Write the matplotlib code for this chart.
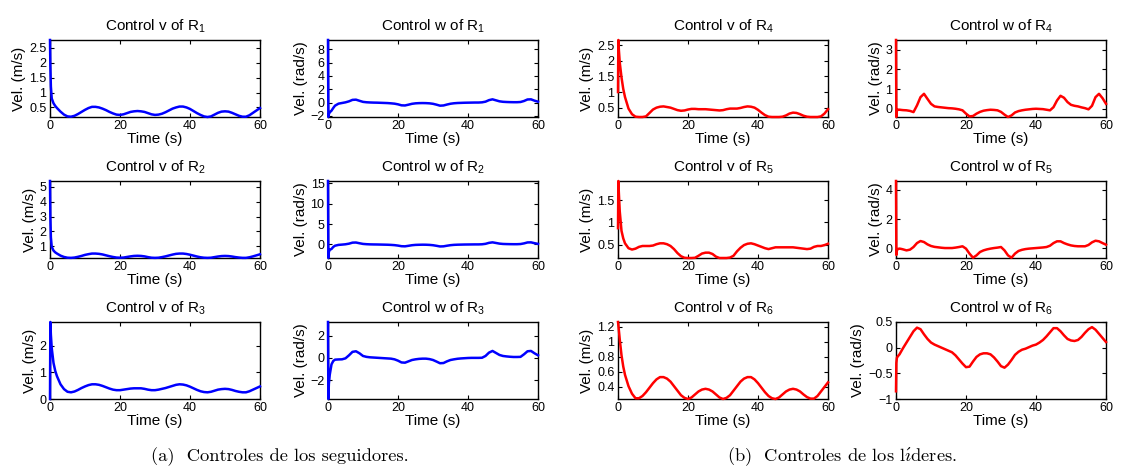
import matplotlib
matplotlib.use('Agg')
import matplotlib.pyplot as plt
from matplotlib.ticker import FuncFormatter

plt.rcParams['font.family'] = 'Liberation Sans'
plt.rcParams['mathtext.fontset'] = 'custom'
plt.rcParams['mathtext.rm'] = 'Liberation Sans'
plt.rcParams['mathtext.it'] = 'Liberation Sans:italic'

# sampling times (s)
t = [0, 0.1, 0.25, 0.5, 1, 1.5,
     2, 3, 4, 5, 6, 7, 8, 9, 10, 11,
     12, 13, 14, 15, 16, 17, 18, 19, 20, 21,
     22, 23, 24, 25, 26, 27, 28, 29, 30, 31,
     32, 33, 34, 35, 36, 37, 38, 39, 40, 41,
     42, 43, 44, 45, 46, 47, 48, 49, 50, 51,
     52, 53, 54, 55, 56, 57, 58, 59, 60]

# followers: linear velocity (m/s)
v1 = [2.76, 1.9, 1.2, 0.8, 0.64, 0.55,
      0.48, 0.36, 0.26, 0.20, 0.19, 0.22, 0.28, 0.35, 0.42, 0.48,
      0.52, 0.52, 0.50, 0.46, 0.41, 0.35, 0.30, 0.26, 0.25, 0.27,
      0.31, 0.35, 0.37, 0.38, 0.37, 0.35, 0.31, 0.27, 0.25, 0.26,
      0.29, 0.34, 0.40, 0.46, 0.50, 0.53, 0.53, 0.50, 0.45, 0.38,
      0.31, 0.25, 0.20, 0.18, 0.20, 0.26, 0.32, 0.36, 0.37, 0.36,
      0.32, 0.27, 0.22, 0.19, 0.19, 0.24, 0.32, 0.40, 0.48]
v2 = [5.4, 3.0, 1.6, 0.95, 0.7, 0.58,
      0.50, 0.36, 0.27, 0.22, 0.21, 0.23, 0.28, 0.34, 0.41, 0.46,
      0.50, 0.50, 0.48, 0.44, 0.38, 0.32, 0.27, 0.23, 0.22, 0.23,
      0.27, 0.31, 0.34, 0.35, 0.34, 0.31, 0.26, 0.22, 0.21, 0.22,
      0.26, 0.31, 0.37, 0.43, 0.48, 0.50, 0.50, 0.47, 0.42, 0.36,
      0.30, 0.25, 0.22, 0.21, 0.22, 0.26, 0.30, 0.33, 0.34, 0.33,
      0.30, 0.26, 0.23, 0.21, 0.21, 0.25, 0.31, 0.38, 0.45]
v3 = [0.0, 2.88, 2.4, 1.9, 1.35, 1.05,
      0.85, 0.55, 0.37, 0.27, 0.25, 0.28, 0.34, 0.41, 0.47, 0.52,
      0.55, 0.55, 0.53, 0.49, 0.44, 0.39, 0.35, 0.33, 0.33, 0.35,
      0.37, 0.39, 0.40, 0.40, 0.40, 0.38, 0.35, 0.33, 0.33, 0.35,
      0.38, 0.41, 0.45, 0.49, 0.53, 0.55, 0.54, 0.51, 0.46, 0.40,
      0.34, 0.29, 0.26, 0.25, 0.27, 0.31, 0.35, 0.37, 0.38, 0.37,
      0.34, 0.30, 0.27, 0.25, 0.25, 0.29, 0.35, 0.41, 0.47]

# followers: angular velocity (rad/s)
w1 = [9.4, -2.15, -1.7, -1.45, -1.2, -0.8,
      -0.45, -0.15, -0.05, 0.05, 0.20, 0.42, 0.45, 0.28, 0.12, 0.06,
      0.03, 0.01, 0.00, -0.02, -0.04, -0.06, -0.10, -0.15, -0.25, -0.40,
      -0.42, -0.30, -0.17, -0.10, -0.07, -0.06, -0.07, -0.10, -0.17, -0.30,
      -0.45, -0.42, -0.28, -0.16, -0.09, -0.05, -0.03, -0.01, 0.00, 0.01,
      0.02, 0.02, 0.05, 0.15, 0.38, 0.50, 0.35, 0.20, 0.13, 0.10,
      0.08, 0.07, 0.07, 0.10, 0.25, 0.48, 0.50, 0.30, 0.15]
w2 = [15.5, -3.3, -1.8, -1.3, -1.1, -0.6,
      -0.30, -0.10, -0.03, 0.05, 0.20, 0.45, 0.48, 0.30, 0.14, 0.07,
      0.03, 0.01, 0.00, -0.02, -0.04, -0.06, -0.10, -0.16, -0.27, -0.42,
      -0.45, -0.32, -0.18, -0.10, -0.07, -0.05, -0.06, -0.10, -0.18, -0.32,
      -0.48, -0.45, -0.30, -0.17, -0.09, -0.05, -0.03, -0.01, 0.00, 0.01,
      0.02, 0.02, 0.05, 0.16, 0.40, 0.52, 0.37, 0.21, 0.13, 0.10,
      0.08, 0.07, 0.07, 0.11, 0.27, 0.50, 0.52, 0.32, 0.15]
w3 = [3.22, -3.67, -2.3, -1.5, -0.57, -0.27,
      -0.15, -0.13, -0.12, -0.03, 0.24, 0.55, 0.60, 0.42, 0.18, 0.10,
      0.06, 0.04, 0.02, 0.00, -0.02, -0.04, -0.06, -0.12, -0.24, -0.40,
      -0.42, -0.30, -0.18, -0.12, -0.08, -0.06, -0.06, -0.10, -0.18, -0.32,
      -0.47, -0.45, -0.30, -0.18, -0.12, -0.07, -0.04, -0.02, 0.00, 0.01,
      0.01, 0.01, 0.02, 0.18, 0.48, 0.63, 0.45, 0.27, 0.18, 0.14,
      0.11, 0.09, 0.09, 0.10, 0.33, 0.60, 0.63, 0.42, 0.24]

# leaders: linear velocity (m/s)
v4 = [1.0, 2.67, 2.35, 1.95, 1.47, 1.1,
      0.84, 0.47, 0.29, 0.21, 0.20, 0.20, 0.22, 0.33, 0.44, 0.50,
      0.53, 0.54, 0.52, 0.50, 0.46, 0.42, 0.40, 0.41, 0.44, 0.46,
      0.46, 0.45, 0.45, 0.45, 0.44, 0.43, 0.42, 0.41, 0.42, 0.45,
      0.47, 0.47, 0.47, 0.49, 0.52, 0.54, 0.53, 0.50, 0.43, 0.34,
      0.26, 0.21, 0.20, 0.20, 0.20, 0.21, 0.25, 0.31, 0.34, 0.33,
      0.29, 0.24, 0.21, 0.20, 0.20, 0.20, 0.22, 0.31, 0.45]
v5 = [0.87, 1.93, 1.65, 1.25, 0.81, 0.64,
      0.53, 0.42, 0.39, 0.41, 0.45, 0.47, 0.47, 0.47, 0.48, 0.51,
      0.53, 0.53, 0.51, 0.47, 0.40, 0.31, 0.24, 0.205, 0.20, 0.20,
      0.205, 0.25, 0.30, 0.32, 0.32, 0.29, 0.23, 0.20, 0.20, 0.20,
      0.21, 0.25, 0.35, 0.43, 0.49, 0.52, 0.53, 0.51, 0.48, 0.45,
      0.42, 0.40, 0.42, 0.44, 0.44, 0.44, 0.44, 0.44, 0.44, 0.43,
      0.42, 0.41, 0.40, 0.41, 0.45, 0.47, 0.47, 0.49, 0.52]
v6 = [1.26, 1.22, 1.15, 1.03, 0.82, 0.67,
      0.56, 0.41, 0.31, 0.25, 0.25, 0.28, 0.33, 0.39, 0.45, 0.50,
      0.53, 0.53, 0.51, 0.47, 0.41, 0.35, 0.29, 0.255, 0.24, 0.26,
      0.30, 0.34, 0.365, 0.375, 0.365, 0.34, 0.30, 0.26, 0.24, 0.255,
      0.29, 0.35, 0.41, 0.47, 0.51, 0.53, 0.53, 0.50, 0.45, 0.39,
      0.33, 0.28, 0.25, 0.24, 0.26, 0.30, 0.34, 0.365, 0.375, 0.365,
      0.34, 0.30, 0.265, 0.245, 0.245, 0.28, 0.34, 0.40, 0.46]

# leaders: angular velocity (rad/s)
w4 = [3.5, -0.42, -0.1, -0.05, -0.05, -0.06,
      -0.07, -0.08, -0.11, -0.17, 0.17, 0.59, 0.76, 0.50, 0.25, 0.12,
      0.09, 0.07, 0.05, 0.03, 0.02, 0.00, -0.03, -0.08, -0.25, -0.39,
      -0.37, -0.25, -0.16, -0.10, -0.07, -0.05, -0.06, -0.08, -0.16, -0.30,
      -0.42, -0.34, -0.19, -0.12, -0.08, -0.05, -0.03, -0.01, 0.00, -0.01,
      -0.02, -0.05, -0.08, 0.08, 0.42, 0.66, 0.56, 0.34, 0.20, 0.15,
      0.12, 0.07, 0.03, -0.03, 0.15, 0.59, 0.76, 0.54, 0.25]
w5 = [4.6, -0.45, -0.15, -0.05, -0.02, -0.04,
      -0.07, -0.14, -0.09, 0.09, 0.36, 0.50, 0.43, 0.27, 0.16, 0.10,
      0.07, 0.04, 0.02, 0.02, 0.02, 0.05, 0.09, 0.14, -0.02, -0.36,
      -0.64, -0.48, -0.25, -0.14, -0.07, -0.02, 0.02, 0.05, 0.09, -0.14,
      -0.48, -0.64, -0.36, -0.18, -0.10, -0.05, -0.02, 0.00, 0.02, 0.04,
      0.06, 0.09, 0.18, 0.36, 0.48, 0.48, 0.36, 0.27, 0.20, 0.16,
      0.14, 0.14, 0.14, 0.23, 0.41, 0.52, 0.48, 0.36, 0.25]
w6 = [-0.85, -0.3, -0.2, -0.17, -0.13, -0.07,
      -0.01, 0.10, 0.21, 0.32, 0.39, 0.36, 0.26, 0.17, 0.10, 0.06,
      0.03, 0.00, -0.03, -0.06, -0.09, -0.15, -0.23, -0.31, -0.38, -0.37,
      -0.27, -0.18, -0.13, -0.11, -0.11, -0.13, -0.19, -0.27, -0.36, -0.39,
      -0.33, -0.24, -0.14, -0.08, -0.04, -0.02, 0.01, 0.04, 0.06, 0.10,
      0.15, 0.22, 0.30, 0.38, 0.38, 0.32, 0.24, 0.17, 0.14, 0.13,
      0.15, 0.21, 0.29, 0.36, 0.40, 0.35, 0.27, 0.19, 0.11]

xticks = [0, 20, 40, 60]
# the accented i is typeset with mathtext, cmr10 maps U+00ED to the wrong glyph
captions = ['(a)  Controles de los seguidores.',
            '(b)  Controles de los l$\\acute{\\imath}$deres.']

# (column, row, data, ylim, yticks, title, ylabel, colour)
panels = [
    (0, 0, v1, (0.18, 2.76), [0.5, 1, 1.5, 2, 2.5], 'Control v of R$_{1}$', 'Vel. (m/s)', 'blue'),
    (1, 0, w1, (-2.15, 9.4), [-2, 0, 2, 4, 6, 8], 'Control w of R$_{1}$', 'Vel. (rad/s)', 'blue'),
    (0, 1, v2, (0.2, 5.4), [1, 2, 3, 4, 5], 'Control v of R$_{2}$', 'Vel. (m/s)', 'blue'),
    (1, 1, w2, (-3.3, 15.5), [0, 5, 10, 15], 'Control w of R$_{2}$', 'Vel. (rad/s)', 'blue'),
    (0, 2, v3, (0.0, 2.88), [0, 1, 2], 'Control v of R$_{3}$', 'Vel. (m/s)', 'blue'),
    (1, 2, w3, (-3.67, 3.22), [-2, 0, 2], 'Control w of R$_{3}$', 'Vel. (rad/s)', 'blue'),
    (2, 0, v4, (0.2, 2.67), [0.5, 1, 1.5, 2, 2.5], 'Control v of R$_{4}$', 'Vel. (m/s)', 'red'),
    (3, 0, w4, (-0.42, 3.5), [0, 1, 2, 3], 'Control w of R$_{4}$', 'Vel. (rad/s)', 'red'),
    (2, 1, v5, (0.2, 1.93), [0.5, 1, 1.5], 'Control v of R$_{5}$', 'Vel. (m/s)', 'red'),
    (3, 1, w5, (-0.66, 4.6), [0, 2, 4], 'Control w of R$_{5}$', 'Vel. (rad/s)', 'red'),
    (2, 2, v6, (0.24, 1.26), [0.4, 0.6, 0.8, 1, 1.2], 'Control v of R$_{6}$', 'Vel. (m/s)', 'red'),
    (3, 2, w6, (-1, 0.5), [-1, -0.5, 0, 0.5], 'Control w of R$_{6}$', 'Vel. (rad/s)', 'red'),
]

W, H = 1126, 474
col_left = [50, 328, 618, 896]
row_top = [40, 181, 322]
ax_w, ax_h = 210, 77

fmt = FuncFormatter(lambda v, _: ('%g' % v).replace('-', '\u2212'))

fig = plt.figure(figsize=(W / 100, H / 100), dpi=100)

for col, row, y, ylim, yt, title, ylab, colour in panels:
    ax = fig.add_axes([col_left[col] / W, 1 - (row_top[row] + ax_h) / H, ax_w / W, ax_h / H])
    # unclipped so the start-up spike at t=0 stays visible on the left edge
    ax.plot(t, y, color=colour, lw=1.8, solid_joinstyle='round', clip_on=False, zorder=3)
    ax.set_xlim(0, 60)
    ax.set_ylim(*ylim)
    ax.set_xticks(xticks)
    ax.set_yticks(yt)
    ax.yaxis.set_major_formatter(fmt)
    ax.tick_params(direction='in', top=True, right=True, length=3, width=0.8,
                   labelsize=9, pad=2.5)
    for s in ax.spines.values():
        s.set_linewidth(1.0)
    ax.set_title(title, fontsize=11, pad=7)
    ax.set_xlabel('Time (s)', fontsize=11, labelpad=0)
    ax.set_ylabel(ylab, fontsize=11, labelpad=2)

for xc, cap in zip([280, 842], captions):
    fig.text(xc / W, 1 - 457 / H, cap, ha='center', va='center', fontsize=13.3,
             family='cmr10', math_fontfamily='cm')

fig.savefig('out.png', dpi=100)
